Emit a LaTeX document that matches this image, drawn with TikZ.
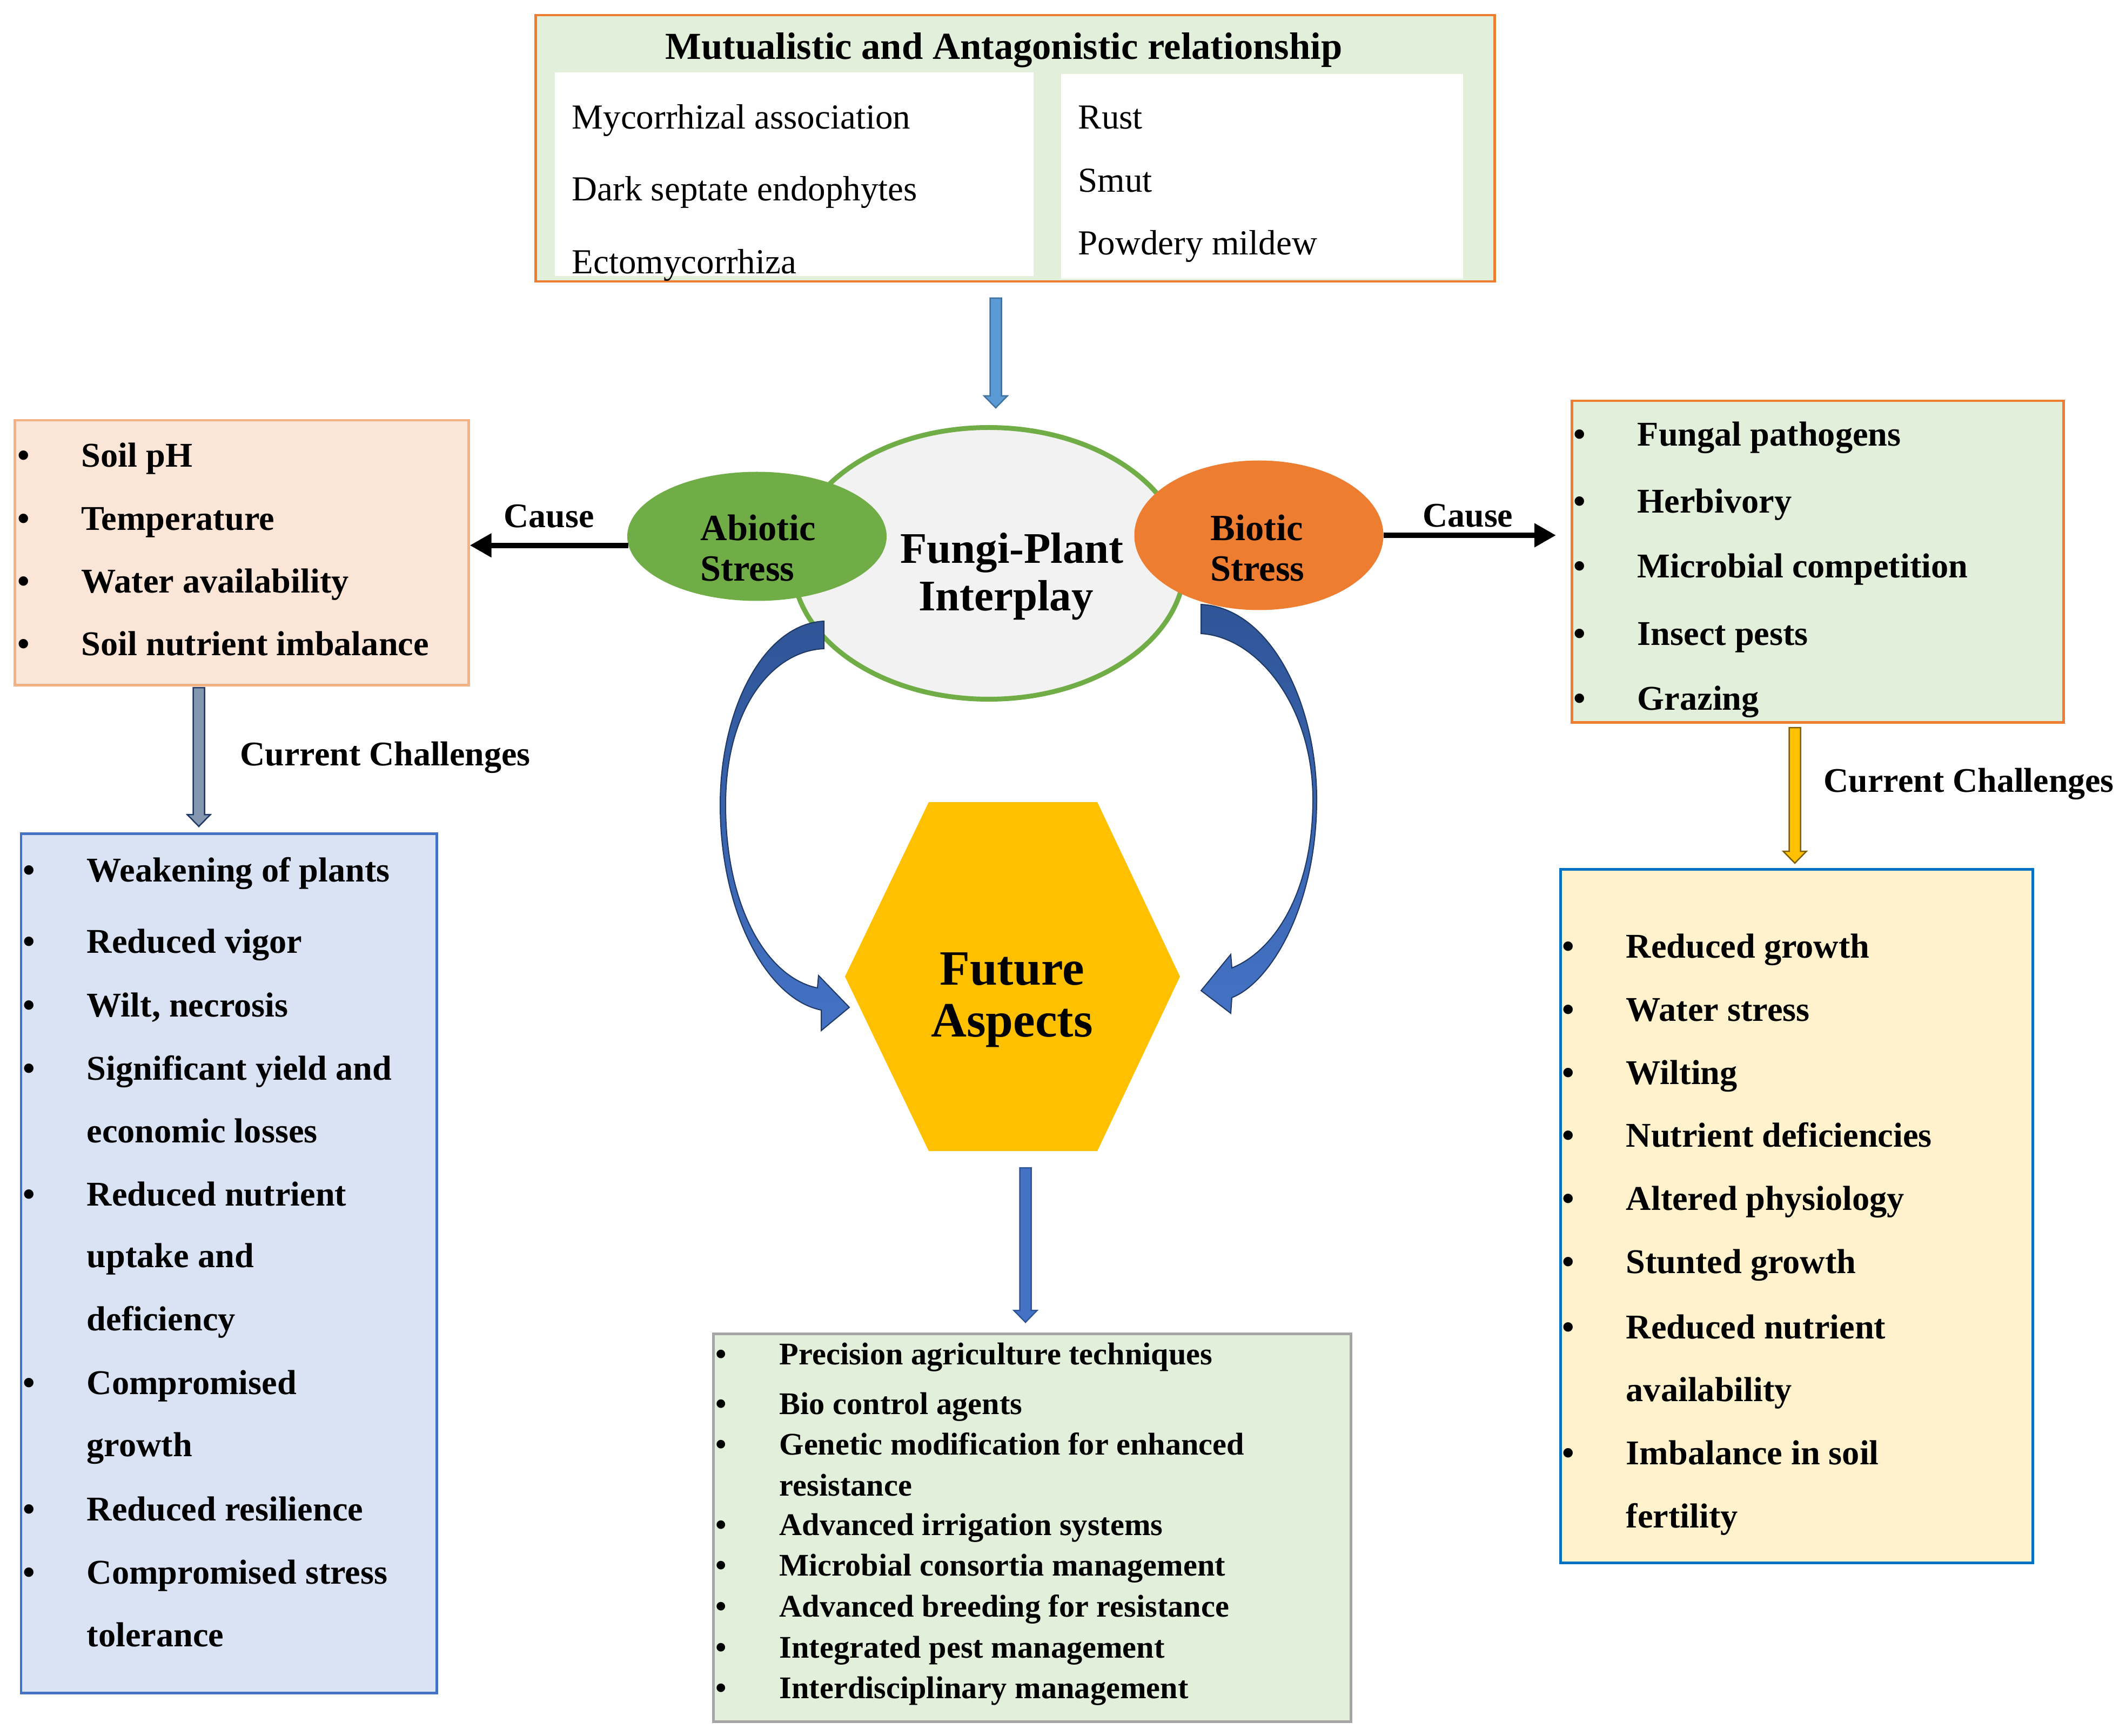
\documentclass[tikz,border=0pt]{standalone}
\usepackage{fontspec}
\setmainfont{Liberation Serif}
\usetikzlibrary{arrows.meta,calc,shapes.geometric}

\definecolor{orangeline}{HTML}{ED7D31}
\definecolor{lightgreen}{HTML}{E2EFDA}
\definecolor{peach}{HTML}{FBE5D6}
\definecolor{peachline}{HTML}{F4B183}
\definecolor{paleblue}{HTML}{DAE3F3}
\definecolor{midblue}{HTML}{4472C4}
\definecolor{paleyellow}{HTML}{FFF2CC}
\definecolor{strongblue}{HTML}{0070C0}
\definecolor{greyline}{HTML}{A5A5A5}
\definecolor{leafgreen}{HTML}{70AD47}
\definecolor{lightgrey}{HTML}{F2F2F2}
\definecolor{gold}{HTML}{FFC000}
\definecolor{darkgold}{HTML}{7F6000}
\definecolor{navy}{HTML}{1F3864}
\definecolor{darkblue}{HTML}{2F5597}
\definecolor{skyblue}{HTML}{5B9BD5}
\definecolor{skyline}{HTML}{41719C}
\definecolor{slate}{HTML}{8497B0}

\newcommand{\bul}{\makebox[1.18cm][l]{\textbullet}}

\tikzset{
  box/.style={draw, rectangle, line width=0.045cm, inner sep=0, anchor=north west},
  heading/.style={font=\bfseries\fontsize{20.1}{24}\selectfont, inner sep=0, anchor=base},
  plain/.style={font=\fontsize{18.5}{22}\selectfont, inner sep=0, anchor=base west},
  item/.style={font=\bfseries\fontsize{18.3}{22}\selectfont, inner sep=0, anchor=base west},
  smallitem/.style={font=\bfseries\fontsize{16.6}{19}\selectfont, inner sep=0, anchor=base west},
  lbl/.style={font=\bfseries\fontsize{18.2}{22}\selectfont, inner sep=0},
  stresslbl/.style={font=\bfseries\fontsize{19.5}{21.3}\selectfont, inner sep=0, align=left, anchor=north west},
  causearrow/.style={line width=0.1cm, -{Triangle[length=0.4cm,width=0.42cm]}},
  blockarrow/.style={line width=0.025cm, line join=miter, to path={
    let \p1=(\tikztostart), \p2=(\tikztotarget) in
    (\x1-0.105cm,\y1) -- (\x1-0.105cm,\y2+0.22cm) -- (\x1-0.215cm,\y2+0.22cm)
    -- (\x1,\y2) -- (\x1+0.215cm,\y2+0.22cm) -- (\x1+0.105cm,\y2+0.22cm)
    -- (\x1+0.105cm,\y1) -- cycle}},
  curvearrow/.style={draw=navy, line width=0.02cm, top color=darkblue, bottom color=midblue}
}

\begin{document}
\begin{tikzpicture}[x=1cm,y=-1cm]

    \useasboundingbox (0,0) rectangle (39.35,32.14);

    % top box
    \node[box, fill=lightgreen, draw=orangeline, minimum width=17.75cm, minimum height=4.93cm] (mutual) at (9.89,0.26) {};
    \node[fill=white, inner sep=0, anchor=north west, minimum width=8.86cm, minimum height=3.77cm] (mutpanel) at (10.26,1.33) {};
    \node[fill=white, inner sep=0, anchor=north west, minimum width=7.44cm, minimum height=3.79cm] (antpanel) at (19.63,1.36) {};
    \node[heading] (mutualtitle) at (18.58,1.10) {Mutualistic and Antagonistic relationship};
    \node[plain] (myco) at (10.58,2.39) {Mycorrhizal association};
    \node[plain] (dse) at (10.58,3.72) {Dark septate endophytes};
    \node[plain] (ecto) at (10.58,5.07) {Ectomycorrhiza};
    \node[plain] (rust) at (19.95,2.39) {Rust};
    \node[plain] (smut) at (19.95,3.56) {Smut};
    \node[plain] (mildew) at (19.95,4.72) {Powdery mildew};

    % abiotic side
    \node[box, fill=peach, draw=peachline, minimum width=8.40cm, minimum height=4.90cm] (abioticbox) at (0.25,7.76) {};
    \node[item] (ph) at (0.32,8.65) {\bul Soil pH};
    \node[item] (temp) at (0.32,9.82) {\bul Temperature};
    \node[item] (water) at (0.32,10.97) {\bul Water availability};
    \node[item] (nutr) at (0.32,12.13) {\bul Soil nutrient imbalance};

    \node[box, fill=paleblue, draw=midblue, minimum width=7.69cm, minimum height=15.91cm] (abioticchal) at (0.37,15.41) {};
    \node[item] (a1) at (0.42,16.32) {\bul Weakening of plants};
    \node[item] (a2) at (0.42,17.64) {\bul Reduced vigor};
    \node[item] (a3) at (0.42,18.82) {\bul Wilt, necrosis};
    \node[item] (a4) at (0.42,19.99) {\bul Significant yield and};
    \node[item] (a4b) at (1.60,21.15) {economic losses};
    \node[item] (a5) at (0.42,22.32) {\bul Reduced nutrient};
    \node[item] (a5b) at (1.60,23.46) {uptake and};
    \node[item] (a5c) at (1.60,24.63) {deficiency};
    \node[item] (a6) at (0.42,25.81) {\bul Compromised};
    \node[item] (a6b) at (1.60,26.96) {growth};
    \node[item] (a7) at (0.42,28.15) {\bul Reduced resilience};
    \node[item] (a8) at (0.42,29.32) {\bul Compromised stress};
    \node[item] (a8b) at (1.60,30.48) {tolerance};

    % biotic side
    \node[box, fill=lightgreen, draw=orangeline, minimum width=9.10cm, minimum height=5.95cm] (bioticbox) at (29.07,7.40) {};
    \node[item] (fung) at (29.12,8.26) {\bul Fungal pathogens};
    \node[item] (herb) at (29.12,9.50) {\bul Herbivory};
    \node[item] (micro) at (29.12,10.70) {\bul Microbial competition};
    \node[item] (insect) at (29.12,11.94) {\bul Insect pests};
    \node[item] (graz) at (29.12,13.14) {\bul Grazing};

    \node[box, fill=paleyellow, draw=strongblue, minimum width=8.74cm, minimum height=12.84cm] (bioticchal) at (28.86,16.07) {};
    \node[item] (b1) at (28.91,17.73) {\bul Reduced growth};
    \node[item] (b2) at (28.91,18.90) {\bul Water stress};
    \node[item] (b3) at (28.91,20.07) {\bul Wilting};
    \node[item] (b4) at (28.91,21.23) {\bul Nutrient deficiencies};
    \node[item] (b5) at (28.91,22.40) {\bul Altered physiology};
    \node[item] (b6) at (28.91,23.57) {\bul Stunted growth};
    \node[item] (b7) at (28.91,24.78) {\bul Reduced nutrient};
    \node[item] (b7b) at (30.09,25.94) {availability};
    \node[item] (b8) at (28.91,27.11) {\bul Imbalance in soil};
    \node[item] (b8b) at (30.09,28.28) {fertility};

    % future box
    \node[box, fill=lightgreen, draw=greyline, minimum width=11.80cm, minimum height=7.18cm] (futurebox) at (13.18,24.67) {};
    \node[smallitem] (f1) at (13.24,25.26) {\bul Precision agriculture techniques};
    \node[smallitem] (f2) at (13.24,26.18) {\bul Bio control agents};
    \node[smallitem] (f3) at (13.24,26.93) {\bul Genetic modification for enhanced};
    \node[smallitem] (f3b) at (14.42,27.69) {resistance};
    \node[smallitem] (f4) at (13.24,28.42) {\bul Advanced irrigation systems};
    \node[smallitem] (f5) at (13.24,29.17) {\bul Microbial consortia management};
    \node[smallitem] (f6) at (13.24,29.93) {\bul Advanced breeding for resistance};
    \node[smallitem] (f7) at (13.24,30.69) {\bul Integrated pest management};
    \node[smallitem] (f8) at (13.24,31.44) {\bul Interdisciplinary management};

    % centre
    \node[ellipse, draw=leafgreen, fill=lightgrey, line width=0.09cm, minimum width=7.26cm, minimum height=5.03cm] (interplay) at (18.30,10.43) {};
    \node[font=\bfseries\fontsize{23}{26}\selectfont, inner sep=0, anchor=base] (interplay1) at (18.73,10.43) {Fungi-Plant};
    \node[font=\bfseries\fontsize{23}{26}\selectfont, inner sep=0, anchor=base] (interplay2) at (18.62,11.31) {Interplay};

    \node[ellipse, fill=leafgreen, minimum width=4.80cm, minimum height=2.39cm] (abiotic) at (14.01,9.93) {};
    \node[stresslbl] (abiotictxt) at (12.96,9.52) {Abiotic\\Stress};

    \node[ellipse, fill=orangeline, minimum width=4.61cm, minimum height=2.77cm] (biotic) at (23.30,9.91) {};
    \node[stresslbl] (biotictxt) at (22.40,9.52) {Biotic\\Stress};

    \fill[gold] (17.19,14.85) -- (20.31,14.85) -- (21.84,18.08) -- (20.31,21.31) -- (17.19,21.31) -- (15.64,18.08) -- cycle;
    \node[font=\bfseries\fontsize{26}{29}\selectfont, inner sep=0, anchor=base] (future1) at (18.73,18.23) {Future};
    \node[font=\bfseries\fontsize{26}{29}\selectfont, inner sep=0, anchor=base] (future2) at (18.73,19.19) {Aspects};

    % curved arrows
    \draw[curvearrow] (15.25,12.01) -- (15.25,11.50)
        .. controls (14.15,11.55) and (13.33,13.1) .. (13.33,14.9)
        .. controls (13.33,16.9) and (14.2,18.5) .. (15.20,18.70)
        -- (15.20,19.08) -- (15.72,18.65) -- (15.15,18.06) -- (15.13,18.29)
        .. controls (14.2,18.1) and (13.43,16.8) .. (13.43,14.9)
        .. controls (13.43,13.1) and (14.3,12.05) .. cycle;
    \draw[curvearrow] (22.23,11.73) -- (22.23,11.19)
        .. controls (23.5,11.25) and (24.37,13.0) .. (24.37,14.8)
        .. controls (24.37,16.8) and (23.5,18.2) .. (22.80,18.47)
        -- (22.78,18.76) -- (22.23,18.34) -- (22.78,17.67) -- (22.80,17.92)
        .. controls (23.6,17.6) and (24.30,16.5) .. (24.30,14.8)
        .. controls (24.30,13.1) and (23.3,11.8) .. cycle;

    % cause arrows
    \draw[causearrow] (abiotic.184) -- (abioticbox.east |- abiotic.184)
        node[midway, above=0.27cm, lbl] (cause1) {Cause};
    \draw[causearrow, shorten >=0.27cm] (biotic.east) -- (bioticbox.west |- biotic.east)
        node[pos=0.45, above=0.10cm, lbl] (cause2) {Cause};

    % block arrows
    \coordinate (toptail) at (18.43,5.52);
    \coordinate (toptip) at (18.43,7.55);
    \coordinate (lefttail) at (3.68,12.73);
    \coordinate (lefttip) at (3.68,15.30);
    \coordinate (righttail) at (33.22,13.47);
    \coordinate (righttip) at (33.22,15.98);
    \coordinate (bottail) at (18.98,21.62);
    \coordinate (bottip) at (18.98,24.48);

    \draw[blockarrow, fill=skyblue, draw=skyline] (toptail) to (toptip);
    \draw[blockarrow, fill=slate, draw=navy] (lefttail) to (lefttip);
    \draw[blockarrow, fill=gold, draw=darkgold] (righttail) to (righttip);
    \draw[blockarrow, fill=midblue, draw=darkblue] (bottail) to (bottip);

    \node[lbl, anchor=base west] (chal1) at (4.44,14.17) {Current Challenges};
    \node[lbl, anchor=base west] (chal2) at (33.75,14.66) {Current Challenges};

\end{tikzpicture}
\end{document}
